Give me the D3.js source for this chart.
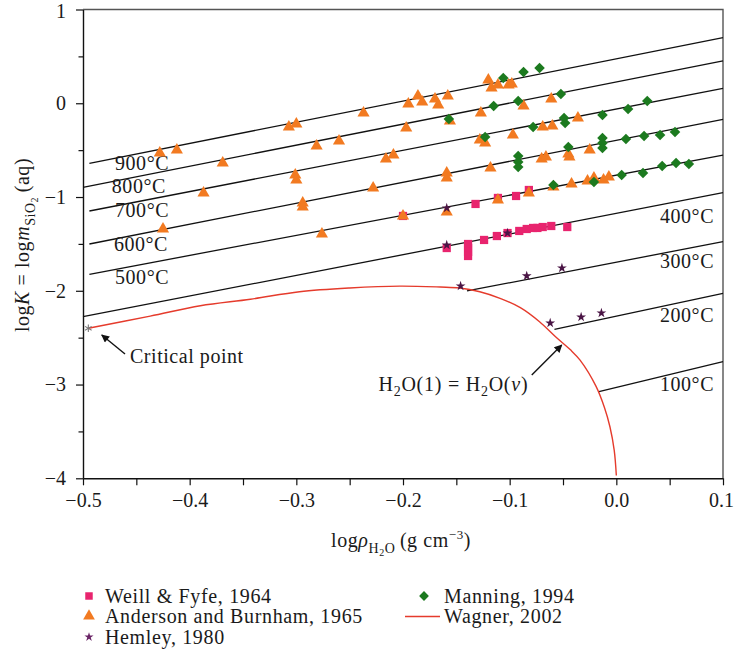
<!DOCTYPE html>
<html>
<head>
<meta charset="utf-8">
<script src="https://cdn.jsdelivr.net/npm/d3@7"></script>
<style>
  body { margin: 0; background: #fff; }
  svg { display: block; }
  text { font-family: "Liberation Serif", "DejaVu Serif", serif; fill: #1a1a1a; }
  .spaced { letter-spacing: 0.55px; }
</style>
</head>
<body>
<svg id="chart" width="734" height="649"></svg>
<script>
// ---- axis ticks ----
const xTickHundredths = d3.range(-50, 11, 5);          // every 0.05, labelled every 0.1
const yTickHalves = d3.range(-8, 3, 1);                 // every 0.5, labelled every 1

// ---- isotherms: label, start point, end point (log rho, log K) ----
const isoLabels = ["900°C", "800°C", "700°C", "600°C", "500°C", "400°C", "300°C", "200°C", "100°C"];
const isoStart = [[-0.494, -0.640], [-0.5, -0.896], [-0.494, -1.149], [-0.494, -1.501], [-0.494, -1.824],
                  [-0.5, -2.276], [-0.140, -2.002], [-0.058, -2.411], [-0.0163, -3.076]];
const isoEnd = [[0.1, 0.699], [0.1, 0.451], [0.1, 0.159], [0.1, -0.171], [0.1, -0.552],
                [0.1, -0.954], [0.1, -1.476], [0.1, -2.027], [0.1, -2.756]];
// label anchors (left-side labels start there, right-side labels end there)
const isoLabelPos = [[-0.470, -0.712], [-0.473, -0.957], [-0.470, -1.213], [-0.471, -1.573], [-0.470, -1.928],
                     [0.0916, -1.274], [0.0916, -1.760], [0.0916, -2.336], [0.0916, -3.066]];

// ---- experimental data (log rho, log m) ----
const weillFyfe = [
  [-0.200, -1.202], [-0.159, -1.544], [-0.139, -1.501], [-0.139, -1.544], [-0.139, -1.586], [-0.139, -1.629],
  [-0.132, -1.074], [-0.124, -1.458], [-0.112, -1.416], [-0.111, -1.010], [-0.102, -1.384], [-0.094, -0.989],
  [-0.091, -1.362], [-0.084, -1.341], [-0.078, -1.330], [-0.074, -1.330], [-0.069, -1.320], [-0.061, -1.309],
  [-0.082, -0.925], [-0.046, -1.320]
];
const andersonBurnham = [
  [-0.428, -0.531], [-0.412, -0.499], [-0.369, -0.637], [-0.387, -0.957], [-0.425, -1.341],
  [-0.307, -0.253], [-0.300, -0.221], [-0.281, -0.456], [-0.260, -0.403], [-0.301, -0.765], [-0.300, -0.818],
  [-0.294, -1.064], [-0.294, -1.106], [-0.276, -1.394],
  [-0.237, -0.104], [-0.228, -0.904], [-0.216, -0.594], [-0.209, -0.552], [-0.200, -1.202], [-0.197, -0.264],
  [-0.195, -0.008], [-0.186, 0.077], [-0.182, 0.013], [-0.170, 0.045], [-0.167, -0.019], [-0.158, 0.077],
  [-0.159, -0.744], [-0.159, -0.797], [-0.159, -1.160], [-0.156, -0.189], [-0.127, -0.104], [-0.128, -0.392],
  [-0.123, -0.424], [-0.120, 0.248], [-0.117, 0.163], [-0.111, 0.195], [-0.101, 0.195], [-0.098, 0.205],
  [-0.118, -0.690], [-0.111, -1.032], [-0.097, -0.339], [-0.087, -0.029], [-0.082, -0.957], [-0.069, -0.253],
  [-0.061, 0.045], [-0.060, -0.243], [-0.070, -0.594], [-0.066, -0.573], [-0.059, -0.893], [-0.045, -0.541],
  [-0.044, -0.573], [-0.042, -0.861], [-0.036, -0.157], [-0.027, -0.829], [-0.025, -0.499], [-0.021, -0.797],
  [-0.012, -0.818], [-0.007, -0.786]
];
const hemley = [
  [-0.159, -1.117], [-0.159, -1.512], [-0.102, -1.384], [-0.146, -1.949], [-0.084, -1.842],
  [-0.051, -1.757], [-0.062, -2.344], [-0.033, -2.280], [-0.014, -2.237]
];
const manning = [
  [-0.157, -0.168], [-0.123, -0.360], [-0.115, -0.029], [-0.106, 0.269], [-0.092, 0.024], [-0.087, 0.333],
  [-0.072, 0.376], [-0.078, -0.253], [-0.092, -0.562], [-0.092, -0.626], [-0.092, -0.680], [-0.059, -0.872],
  [-0.052, 0.099], [-0.049, -0.157], [-0.048, -0.211], [-0.045, -0.467], [-0.021, -0.840], [-0.013, -0.125],
  [-0.013, -0.371], [-0.013, -0.424], [-0.013, -0.477], [0.005, -0.765], [0.009, -0.381], [0.011, -0.061],
  [0.025, -0.744], [0.026, -0.349], [0.029, 0.024], [0.041, -0.339], [0.043, -0.669], [0.055, -0.307],
  [0.056, -0.637], [0.068, -0.648]
];
// liquid-vapour saturation curve
const wagner = [
  [-0.495, -2.40], [-0.437, -2.27], [-0.390, -2.16], [-0.343, -2.09], [-0.297, -2.01], [-0.250, -1.97],
  [-0.203, -1.95], [-0.165, -1.96], [-0.147, -1.97], [-0.128, -2.01], [-0.109, -2.08], [-0.090, -2.18],
  [-0.072, -2.33], [-0.057, -2.49], [-0.043, -2.63], [-0.034, -2.74], [-0.019, -3.02], [-0.011, -3.25],
  [-0.006, -3.45], [-0.002, -3.70], [0.0, -3.97]
];
const criticalPoint = [-0.495, -2.40];

const COLORS = { weill: "#e8246e", anderson: "#f27a21", hemley: "#4a1545", manning: "#1c7a1f", wagner: "#e53b2c" };

const svg = d3.select("#chart");
const x = d3.scaleLinear().domain([-0.5, 0.1]).range([83, 723]);
const y = d3.scaleLinear().domain([-4, 1]).range([478.3, 9.5]);
const FS = 20;

// frame (top and right)
svg.append("path")
  .attr("d", `M${x(-0.5)},${y(1)}H${x(0.1)}V${y(-4)}`)
  .attr("fill", "none").attr("stroke", "#555").attr("stroke-width", 1.4);

// x axis
const xAxis = d3.axisBottom(x)
  .tickValues(xTickHundredths.map(v => v / 100))
  .tickSize(7).tickSizeOuter(0).tickPadding(8)
  .tickFormat((d, i) => xTickHundredths[i] % 10 === 0 ? d3.format(".1f")(d) : "");
const gx = svg.append("g").attr("transform", `translate(0,${y(-4)})`).call(xAxis);
gx.select(".domain").attr("stroke", "#111").attr("stroke-width", 1.4);
gx.selectAll(".tick line").attr("stroke", "#111").attr("stroke-width", 1.2);
gx.selectAll(".tick text").attr("font-size", FS).attr("font-family", "Liberation Serif").attr("fill", "#1a1a1a")
  .attr("dx", (d, i) => i === xTickHundredths.length - 1 ? -2 : 0);

// y axis
const yAxis = d3.axisLeft(y)
  .tickValues(yTickHalves.map(v => v / 2))
  .tickSize(7).tickSizeOuter(0).tickPadding(10)
  .tickFormat((d, i) => yTickHalves[i] % 2 === 0 ? d3.format("d")(d) : "");
const gy = svg.append("g").attr("transform", `translate(${x(-0.5)},0)`).call(yAxis);
gy.select(".domain").attr("stroke", "#111").attr("stroke-width", 1.4);
gy.selectAll(".tick line").attr("stroke", "#111").attr("stroke-width", 1.2)
  .attr("x2", (d, i) => yTickHalves[i] % 2 === 0 ? -7 : -4.5);
gy.selectAll(".tick text").attr("font-size", FS).attr("font-family", "Liberation Serif").attr("fill", "#1a1a1a")
  .attr("dy", (d, i) => i === yTickHalves.length - 1 ? "0.42em" : "0.32em");

// axis titles
const xt = svg.append("text").attr("class", "spaced").attr("x", 401).attr("y", 547).attr("text-anchor", "middle").attr("font-size", FS);
xt.append("tspan").text("log");
xt.append("tspan").attr("font-style", "italic").text("ρ");
xt.append("tspan").attr("font-size", 14).attr("dy", 6).text("H");
xt.append("tspan").attr("font-size", 10).attr("dy", 3).text("2");
xt.append("tspan").attr("font-size", 14).attr("dy", -3).text("O");
xt.append("tspan").attr("dy", -6).text("\u2009(g cm");
xt.append("tspan").attr("font-size", 13).attr("dy", -8).text("−3");
xt.append("tspan").attr("dy", 8).text(")");

const yt = svg.append("text").attr("class", "spaced").attr("transform", "translate(28.5,245) rotate(-90)")
  .attr("text-anchor", "middle").attr("font-size", FS);
yt.append("tspan").text("log");
yt.append("tspan").attr("font-style", "italic").text("K");
yt.append("tspan").text(" = log");
yt.append("tspan").attr("font-style", "italic").text("m");
yt.append("tspan").attr("font-size", 14).attr("dy", 6).text("SiO");
yt.append("tspan").attr("font-size", 10).attr("dy", 3).text("2");
yt.append("tspan").attr("dy", -9).text("\u2009(aq)");

// isotherms
const plot = svg.append("g");
plot.selectAll("line.iso").data(isoLabels).join("line").attr("class", "iso")
  .attr("x1", (d, i) => x(isoStart[i][0])).attr("y1", (d, i) => y(isoStart[i][1]))
  .attr("x2", (d, i) => x(isoEnd[i][0])).attr("y2", (d, i) => y(isoEnd[i][1]))
  .attr("stroke", "#111").attr("stroke-width", 1.3);
plot.selectAll("text.iso").data(isoLabels).join("text").attr("class", "iso spaced")
  .attr("x", (d, i) => x(isoLabelPos[i][0])).attr("y", (d, i) => y(isoLabelPos[i][1]))
  .attr("text-anchor", (d, i) => i < 5 ? "start" : "end")
  .attr("font-size", FS).text(d => d);

// saturation curve
plot.append("path").datum(wagner)
  .attr("d", d3.line().x(d => x(d[0])).y(d => y(d[1])).curve(d3.curveCatmullRom.alpha(0.5)))
  .attr("fill", "none").attr("stroke", COLORS.wagner).attr("stroke-width", 1.4);

// critical point asterisk
const cp = plot.append("g").attr("transform", `translate(${x(criticalPoint[0])},${y(criticalPoint[1])})`);
[90, 30, 150].forEach(a => {
  const r = 3.8, rad = a * Math.PI / 180;
  cp.append("line").attr("x1", -r * Math.cos(rad)).attr("y1", -r * Math.sin(rad))
    .attr("x2", r * Math.cos(rad)).attr("y2", r * Math.sin(rad))
    .attr("stroke", "#777").attr("stroke-width", 1.1);
});

// markers
const sym = (type, size) => d3.symbol().type(type).size(size)();
function drawPoints(data, type, size, color, rotate) {
  plot.append("g").selectAll("path").data(data).join("path")
    .attr("d", sym(type, size))
    .attr("transform", d => `translate(${x(d[0])},${y(d[1])})${rotate ? " rotate(45)" : ""}`)
    .attr("fill", color);
}
drawPoints(weillFyfe, d3.symbolSquare, 68, COLORS.weill);
drawPoints(andersonBurnham, d3.symbolTriangle, 64, COLORS.anderson);
drawPoints(manning, d3.symbolSquare, 56, COLORS.manning, true);
drawPoints(hemley, d3.symbolStar, 30, COLORS.hemley);

// annotations
svg.append("defs").append("marker").attr("id", "arrow")
  .attr("viewBox", "0 0 10 10").attr("refX", 9).attr("refY", 5)
  .attr("markerWidth", 11).attr("markerHeight", 8).attr("markerUnits", "userSpaceOnUse")
  .attr("orient", "auto")
  .append("path").attr("d", "M0,0L10,5L0,10Z").attr("fill", "#111");

const arrows = [[[-0.4606, -2.674], [-0.4824, -2.471]], [[-0.0793, -2.898], [-0.0512, -2.578]]];
plot.selectAll("line.arrow").data(arrows).join("line").attr("class", "arrow")
  .attr("x1", d => x(d[0][0])).attr("y1", d => y(d[0][1]))
  .attr("x2", d => x(d[1][0])).attr("y2", d => y(d[1][1]))
  .attr("stroke", "#111").attr("stroke-width", 1.4).attr("marker-end", "url(#arrow)");

plot.append("text").attr("class", "spaced").attr("x", x(-0.456)).attr("y", y(-2.773)).attr("font-size", FS).text("Critical point");

const eq = plot.append("text").attr("class", "spaced").attr("x", x(-0.223)).attr("y", y(-3.066)).attr("font-size", FS)
  .style("letter-spacing", "0.75px");
eq.append("tspan").text("H");
eq.append("tspan").attr("font-size", 14).attr("dy", 5).text("2");
eq.append("tspan").attr("dy", -5).text("O(1) = H");
eq.append("tspan").attr("font-size", 14).attr("dy", 5).text("2");
eq.append("tspan").attr("dy", -5).text("O(");
eq.append("tspan").attr("font-style", "italic").text("ν");
eq.append("tspan").text(")");

// legend
const legend = svg.append("g");
const legendItems = [
  { label: "Weill & Fyfe, 1964", type: d3.symbolSquare, size: 56, color: COLORS.weill, lx: 89, ly: 596 },
  { label: "Anderson and Burnham, 1965", type: d3.symbolTriangle, size: 60, color: COLORS.anderson, lx: 89, ly: 616 },
  { label: "Hemley, 1980", type: d3.symbolStar, size: 26, color: "#6a2466", lx: 89, ly: 637 },
  { label: "Manning, 1994", type: d3.symbolSquare, size: 48, color: COLORS.manning, lx: 424, ly: 596, rot: true }
];
legendItems.forEach(it => {
  legend.append("path").attr("d", sym(it.type, it.size))
    .attr("transform", `translate(${it.lx},${it.ly})${it.rot ? " rotate(45)" : ""}`)
    .attr("fill", it.color);
  legend.append("text").attr("class", "spaced").attr("x", it.lx + 16 + (it.rot ? 4 : 0)).attr("y", it.ly + 7)
    .attr("font-size", FS).style("letter-spacing", "0.65px").text(it.label);
});
legend.append("line").attr("x1", 405).attr("x2", 440).attr("y1", 616.5).attr("y2", 616.5)
  .attr("stroke", COLORS.wagner).attr("stroke-width", 1.4);
legend.append("text").attr("class", "spaced").attr("x", 444).attr("y", 623).attr("font-size", FS)
  .style("letter-spacing", "0.65px").text("Wagner, 2002");
</script>
</body>
</html>
